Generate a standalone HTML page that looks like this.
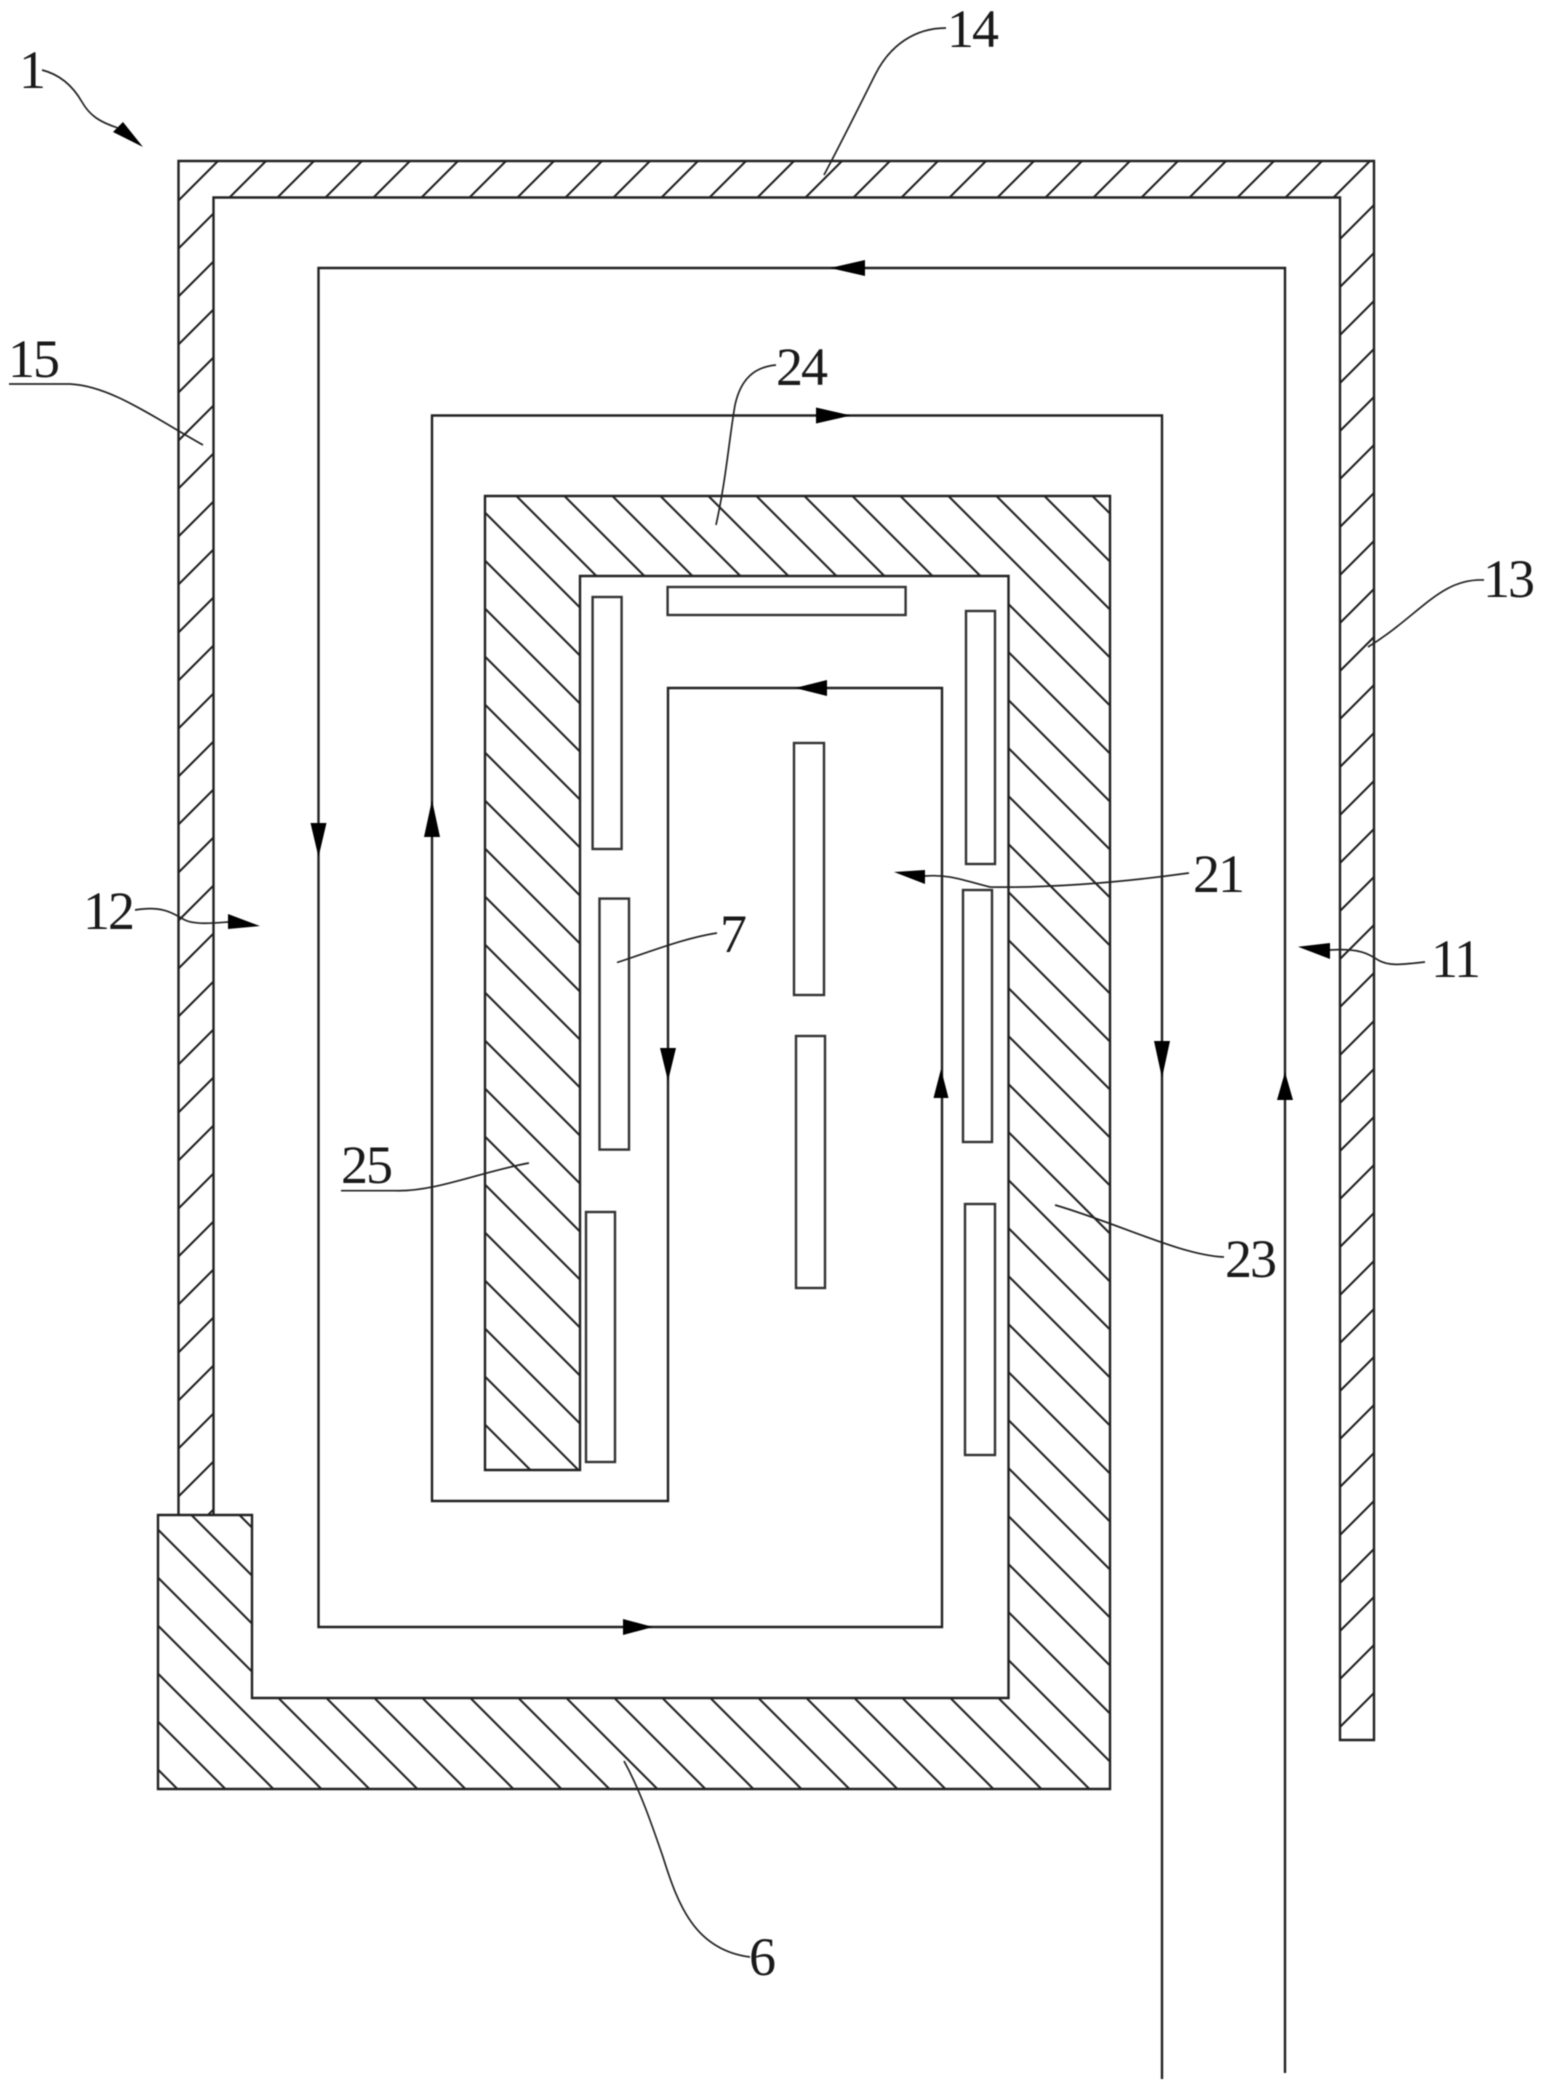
<!DOCTYPE html>
<html><head><meta charset="utf-8"><style>
html,body{margin:0;padding:0;background:#fff;width:1541px;height:2091px;overflow:hidden}
svg{display:block;filter:blur(.5px)}
text{font-family:"Liberation Serif",serif;font-size:54px;fill:#1a1a1a;letter-spacing:-2px}
.l{fill:none;stroke:#222;stroke-width:2.4}
.h{fill:#fff;stroke:#333;stroke-width:2.4}
.c{fill:none;stroke:#222;stroke-width:1.7}
</style></head><body>
<svg width="1541" height="2091" viewBox="0 0 1541 2091" xmlns="http://www.w3.org/2000/svg">
<defs>
<pattern id="w" width="48" height="48" patternUnits="userSpaceOnUse" patternTransform="translate(43,0)">
<path d="M-4 4L4 -4M0 48L48 0M44 52L52 44" stroke="#222" stroke-width="2.1" fill="none"/>
</pattern>
<pattern id="i" width="48" height="48" patternUnits="userSpaceOnUse" patternTransform="translate(20.4,0)">
<path d="M-4 44L4 52M0 0L48 48M44 -4L52 4" stroke="#222" stroke-width="2.1" fill="none"/>
</pattern>
</defs>
<rect width="1541" height="2091" fill="#fff"/>

<!-- outer casing -->
<path d="M178.5 1516V161H1374V1740H1340V197.5H213.5V1516Z" fill="url(#w)" stroke="#222" stroke-width="2.4"/>

<!-- insulation -->
<path d="M158 1515H252V1698H1008.5V576H580V1470H485V496H1110V1789H158Z" fill="#fff"/>
<path d="M158 1515H252V1698H1008.5V576H580V1470H485V496H1110V1789H158Z" fill="url(#i)" stroke="#222" stroke-width="2.4"/>

<!-- heaters -->
<rect class="h" x="667.6" y="587" width="238" height="28"/>
<rect class="h" x="592.6" y="597" width="29" height="252"/>
<rect class="h" x="599.5" y="898.6" width="29.5" height="251"/>
<rect class="h" x="586" y="1212" width="29" height="250"/>
<rect class="h" x="794" y="743" width="30" height="252"/>
<rect class="h" x="796" y="1036" width="29" height="252"/>
<rect class="h" x="966" y="611" width="29" height="253"/>
<rect class="h" x="963" y="890" width="29" height="252"/>
<rect class="h" x="965" y="1204" width="30" height="251"/>

<!-- gas path -->
<path class="l" d="M1285 2073V268H318.5V1627H942V688H668V1501H432V415.5H1162V2079"/>

<!-- flow arrows -->
<g fill="#000">
<polygon points="830,268 865,260 865,276"/>
<polygon points="851,415.5 816,407.5 816,423.5"/>
<polygon points="318.5,857 310.5,823 326.5,823"/>
<polygon points="432,800 424,837 440,837"/>
<polygon points="795,688 827,680 827,696"/>
<polygon points="668,1081 660,1048 676,1048"/>
<polygon points="941,1069 933.5,1098 948.5,1098"/>
<polygon points="653,1627 623,1619 623,1635"/>
<polygon points="1162,1078 1154,1041 1170,1041"/>
<polygon points="1285,1072 1277,1100 1293,1100"/>
<!-- leader arrowheads -->
<polygon points="143,147 113,132 123,122"/>
<polygon points="260,926 228,914 228,929"/>
<polygon points="1298,946.7 1330,943 1330,959"/>
<polygon points="894,872 925,870 925,884"/>
</g>

<!-- leaders -->
<path class="c" d="M42 70C62 75 74 88 82 102C90 116 100 122 118 128"/>
<path class="c" d="M946 28C915 28 890 45 875 75C860 105 840 145 824 175"/>
<path class="c" d="M1484 580C1440 578 1420 615 1368 647"/>
<path class="c" d="M776 365C755 367 741 378 735 405C729 440 726 480 716 525"/>
<path class="c" d="M9 384H70C110 386 150 415 203 445"/>
<path class="c" d="M135 910C165 905 175 915 185 920C195 925 215 923 228 922"/>
<path class="c" d="M1330 950C1362 948 1370 955 1378 960C1390 967 1405 964 1425 962"/>
<path class="c" d="M925 876C950 874 965 881 990 887C1040 888 1110 884 1189 873"/>
<path class="c" d="M617 962.5C655 950 685 938 717 933"/>
<path class="c" d="M341 1190.7H395C435 1192 480 1172 529 1163"/>
<path class="c" d="M1224 1257C1180 1255 1120 1224 1055 1205"/>
<path class="c" d="M624 1761C640 1790 652 1825 663 1857C678 1905 695 1950 750 1957"/>

<!-- labels -->
<text x="19" y="88">1</text>
<text x="947" y="47">14</text>
<text x="1483" y="597">13</text>
<text x="776" y="385">24</text>
<text x="8" y="377">15</text>
<text x="83" y="929">12</text>
<text x="1431" y="977">11</text>
<text x="1193" y="892">21</text>
<text x="720" y="952">7</text>
<text x="341" y="1183">25</text>
<text x="1225" y="1277">23</text>
<text x="749" y="1975">6</text>
</svg>
</body></html>
